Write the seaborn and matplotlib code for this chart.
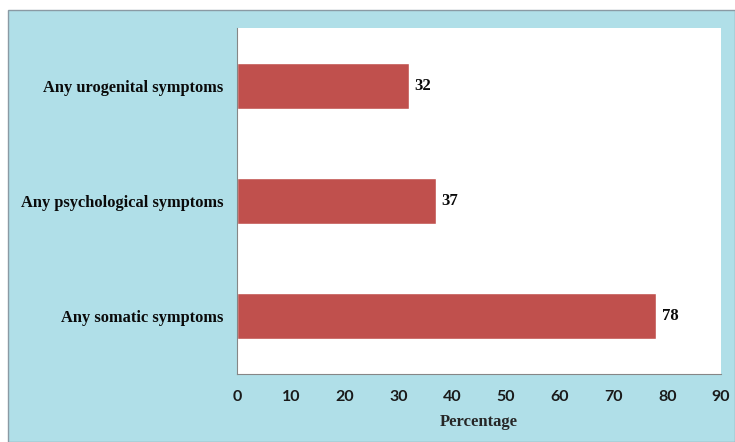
import matplotlib
matplotlib.use("Agg")
import matplotlib.pyplot as plt
import seaborn as sns
import pandas as pd
from matplotlib.patches import Rectangle

categories = ["Any urogenital symptoms", "Any psychological symptoms", "Any somatic symptoms"]
values = [32, 37, 78]
xticks = [0, 10, 20, 30, 40, 50, 60, 70, 80, 90]

df = pd.DataFrame({"Symptom": categories, "Percentage": values})

sns.set_style("white")
plt.rcParams['font.family'] = ['Liberation Serif', 'DejaVu Serif']

W, H = 735, 442
fig = plt.figure(figsize=(W / 100, H / 100), dpi=100)
fig.patch.set_facecolor("white")
# background panel
bg = Rectangle((8 / W, 0), 1 - 8 / W, 1 - 10 / H, transform=fig.transFigure,
               facecolor="#B0DFE8", edgecolor="#8A9AA4", linewidth=1.0, zorder=-10)
fig.add_artist(bg)

ax = fig.add_axes([237 / W, 68 / H, (721 - 237) / W, (374 - 28) / H])
ax.set_zorder(5)
ax.set_facecolor("white")

sns.barplot(data=df, y="Symptom", x="Percentage", order=categories, orient="h",
            color="#C0504D", saturation=1, width=0.4, ax=ax)

ax.set_xlim(0, 90)
ax.set_ylim(2.5, -0.5)
ax.set_xticks(xticks)
ax.set_xticklabels([str(t) for t in xticks], family=['Lato', 'DejaVu Sans'],
                   fontweight="bold", fontsize=11.5, color="#1a1a1a")
ax.tick_params(axis="x", direction="out", length=4, width=0.8, color="#868686", pad=7.5)

ax.set_yticks(range(len(categories)))
ax.set_yticklabels(categories, fontweight="bold", fontsize=11.8, color="#0a0a0a")
ax.tick_params(axis="y", which="major", length=0, pad=10)
ax.set_yticks([-0.5, 0.5, 1.5, 2.5], minor=True)
ax.tick_params(axis="y", which="minor", direction="out", length=4, width=0.8, color="#868686")

ax.set_xlabel("Percentage", fontweight="bold", fontsize=12, labelpad=7)
ax.set_ylabel("")

for s in ["top", "right"]:
    ax.spines[s].set_visible(False)
for s in ["left", "bottom"]:
    ax.spines[s].set_color("#868686")
    ax.spines[s].set_linewidth(0.8)

for i, v in enumerate(values):
    ax.text(v + 1.0, i, str(v), va="center", ha="left", fontweight="bold", fontsize=12, color="#0a0a0a")

fig.savefig("out.png", dpi=100)
